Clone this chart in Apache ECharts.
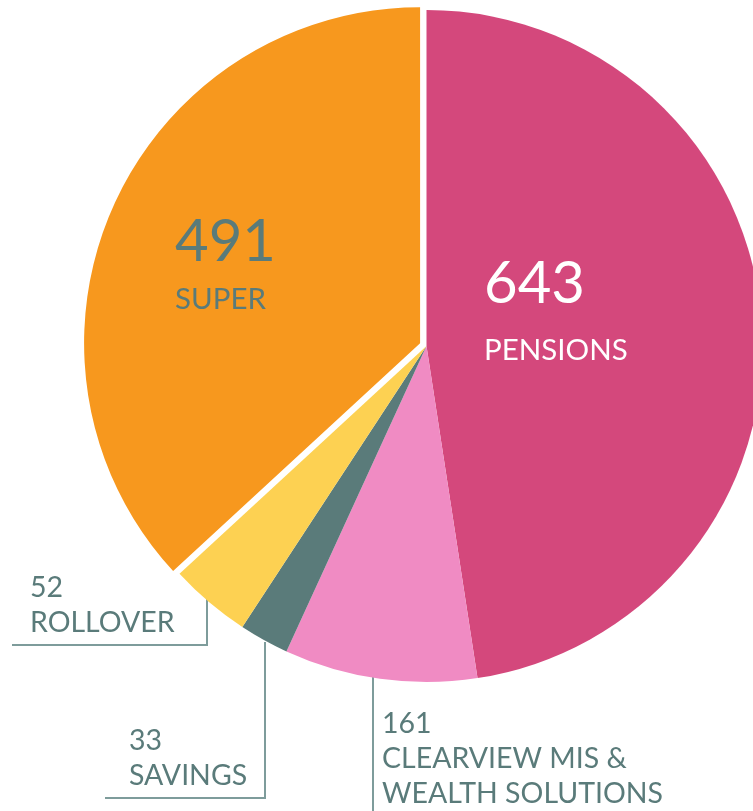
<!DOCTYPE html>
<html>
<head>
<meta charset="utf-8">
<script src="https://cdn.jsdelivr.net/npm/echarts@6/dist/echarts.min.js"></script>
<style>
  html, body { margin: 0; padding: 0; background: #fff; }
  #main { width: 753px; height: 811px; }
</style>
</head>
<body>
<div id="main"></div>
<script>
const categories = ['PENSIONS', 'CLEARVIEW MIS &\nWEALTH SOLUTIONS', 'SAVINGS', 'ROLLOVER', 'SUPER'];
// counts printed on the labels
const values = [643, 161, 33, 52, 491];
// slice sizes as drawn in the source picture (measured from the slice angles)
const sliceValues = [657, 128, 33, 54, 509];
const colors = ['#D4487C', '#F08BC3', '#5A7B7A', '#FDD152', '#F7981E'];
const pulledOut = 4; // SUPER is pulled out of the pie

// label top-left corners and leader lines (px)
const labelPos = [[484, 253], [382, 706], [129, 723], [30, 570], [175, 211]];
const linePts = [
  null,
  [[373, 673], [373, 811], [373, 811]],
  [[265, 642], [265, 798], [105, 798]],
  [[207, 593], [207, 645], [12, 645]],
  null
];

const chart = echarts.init(document.getElementById('main'));
const textColor = '#5A7B7A';
const center = [426.5, 346];
const explode = 7;

// direction of the pulled-out slice's middle
const total = sliceValues.reduce((a, b) => a + b, 0);
const before = sliceValues.slice(0, pulledOut).reduce((a, b) => a + b, 0);
const midAngle = 2 * Math.PI * (before + sliceValues[pulledOut] / 2) / total;
const shiftedCenter = [center[0] + explode * Math.sin(midAngle), center[1] - explode * Math.cos(midAngle)];

function makeData(forPulled) {
  return sliceValues.map((v, i) => {
    const visible = forPulled ? i === pulledOut : i !== pulledOut;
    const inside = i === 0 || i === 4;
    return {
      name: categories[i],
      value: v,
      itemStyle: { color: visible ? colors[i] : 'rgba(0,0,0,0)' },
      label: !visible ? { show: false } : inside ? {
        show: true,
        position: 'inside',
        formatter: '{big|' + values[i] + '}\n{' + (i === 0 ? 'nameP' : 'nameS') + '|{b}}',
        color: i === 0 ? '#fff' : textColor
      } : {
        show: true,
        position: 'outside',
        formatter: values[i] + '\n{b}'
      },
      labelLine: { show: visible && !inside }
    };
  });
}

const baseSeries = {
  type: 'pie',
  radius: 336,
  startAngle: 90,
  clockwise: true,
  avoidLabelOverlap: false,
  emphasis: { disabled: true },
  label: {
    fontFamily: 'Lato',
    fontSize: 28.5,
    lineHeight: 35,
    color: textColor,
    rich: {
      big: { fontFamily: 'Lato', fontSize: 58, lineHeight: 62, align: 'left' },
      nameP: { fontFamily: 'Lato', fontSize: 29.5, lineHeight: 70, align: 'left' },
      nameS: { fontFamily: 'Lato', fontSize: 29.5, lineHeight: 52, align: 'left' }
    }
  },
  labelLine: {
    lineStyle: { color: '#7E9C9B', width: 2 }
  },
  labelLayout: function (params) {
    const i = params.dataIndex;
    const p = labelPos[i];
    const res = { x: p[0], y: p[1], align: 'left', verticalAlign: 'top' };
    if (linePts[i]) res.labelLinePoints = linePts[i];
    return res;
  }
};

chart.setOption({
  animation: false,
  series: [
    Object.assign({}, baseSeries, { center: center, data: makeData(false) }),
    Object.assign({}, baseSeries, { center: shiftedCenter, silent: true, data: makeData(true) })
  ]
});
</script>
</body>
</html>
